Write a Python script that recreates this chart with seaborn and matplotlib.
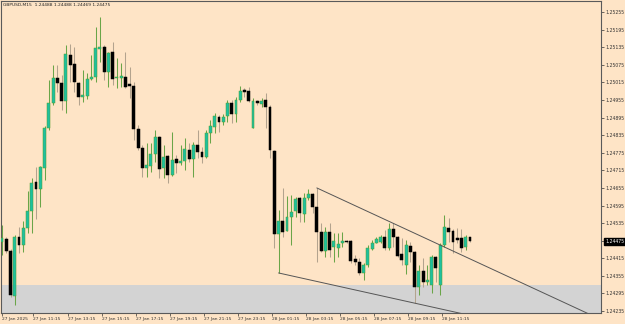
import numpy as np
import pandas as pd
import seaborn as sns
import matplotlib.pyplot as plt

# GBPUSD M15 bars
opens = [1.24471, 1.24481, 1.24440, 1.24286, 1.24488, 1.24460, 1.24518, 1.24576, 1.24675, 1.24651,
         1.24723, 1.24859, 1.24945, 1.25030, 1.25013, 1.24951, 1.25108, 1.25078, 1.25013, 1.24965,
         1.24969, 1.25027, 1.25033, 1.25129, 1.25136, 1.25050, 1.25119, 1.25030, 1.25030, 1.25033,
         1.25009, 1.25003, 1.24856, 1.24791, 1.24723, 1.24730, 1.24771, 1.24829, 1.24723, 1.24764,
         1.24699, 1.24754, 1.24740, 1.24747, 1.24784, 1.24754, 1.24801, 1.24778, 1.24760, 1.24842,
         1.24863, 1.24897, 1.24880, 1.24900, 1.24945, 1.24907, 1.24955, 1.24989, 1.24986, 1.24859,
         1.24951, 1.24941, 1.24955, 1.24931, 1.24781, 1.24498, 1.24542, 1.24508, 1.24556, 1.24576,
         1.24621, 1.24566, 1.24621, 1.24634, 1.24590, 1.24505, 1.24440, 1.24505, 1.24453, 1.24450,
         1.24467, 1.24474, 1.24474, 1.24413, 1.24402, 1.24365, 1.24392, 1.24447, 1.24467, 1.24471,
         1.24488, 1.24450, 1.24515, 1.24488, 1.24430, 1.24392, 1.24457, 1.24436, 1.24317, 1.24372,
         1.24334, 1.24324, 1.24419, 1.24324, 1.24460, 1.24518, 1.24508, 1.24484, 1.24484, 1.24453,
         1.24488]
highs = [1.24529, 1.24488, 1.24447, 1.24494, 1.24522, 1.24542, 1.24645, 1.24689, 1.24726, 1.24730,
         1.24866, 1.25023, 1.25074, 1.25074, 1.25040, 1.25143, 1.25146, 1.25136, 1.25016, 1.25057,
         1.25047, 1.25108, 1.25204, 1.25238, 1.25143, 1.25119, 1.25153, 1.25098, 1.25081, 1.25119,
         1.25067, 1.25016, 1.24870, 1.24801, 1.24808, 1.24808, 1.24853, 1.24832, 1.24801, 1.24767,
         1.24846, 1.24767, 1.24801, 1.24825, 1.24808, 1.24812, 1.24853, 1.24795, 1.24853, 1.24887,
         1.24911, 1.24904, 1.24907, 1.24955, 1.24955, 1.24965, 1.25003, 1.24996, 1.24999, 1.24962,
         1.24955, 1.24962, 1.24979, 1.24938, 1.24784, 1.24580, 1.24655, 1.24627, 1.24631, 1.24624,
         1.24624, 1.24638, 1.24651, 1.24638, 1.24655, 1.24535, 1.24522, 1.24535, 1.24501, 1.24501,
         1.24505, 1.24477, 1.24477, 1.24426, 1.24416, 1.24399, 1.24460, 1.24477, 1.24488, 1.24494,
         1.24511, 1.24535, 1.24534, 1.24491, 1.24484, 1.24477, 1.24471, 1.24440, 1.24392, 1.24416,
         1.24392, 1.24426, 1.24423, 1.24467, 1.24563, 1.24552, 1.24515, 1.24518, 1.24515, 1.24494,
         1.24488]
lows = [1.24426, 1.24433, 1.24283, 1.24256, 1.24433, 1.24436, 1.24501, 1.24501, 1.24549, 1.24590,
        1.24682, 1.24853, 1.24938, 1.24982, 1.24921, 1.24911, 1.25016, 1.24982, 1.24938, 1.24948,
        1.24958, 1.25023, 1.25016, 1.25085, 1.25023, 1.24999, 1.25006, 1.24996, 1.24999, 1.24996,
        1.24962, 1.24818, 1.24784, 1.24692, 1.24692, 1.24709, 1.24743, 1.24689, 1.24689, 1.24672,
        1.24696, 1.24706, 1.24733, 1.24716, 1.24743, 1.24692, 1.24757, 1.24740, 1.24757, 1.24808,
        1.24842, 1.24846, 1.24870, 1.24880, 1.24876, 1.24880, 1.24948, 1.24965, 1.24948, 1.24859,
        1.24938, 1.24931, 1.24859, 1.24757, 1.24450, 1.24365, 1.24488, 1.24508, 1.24460, 1.24556,
        1.24539, 1.24539, 1.24614, 1.24569, 1.24402, 1.24436, 1.24419, 1.24419, 1.24402, 1.24419,
        1.24453, 1.24467, 1.24399, 1.24392, 1.24358, 1.24341, 1.24385, 1.24443, 1.24467, 1.24467,
        1.24443, 1.24443, 1.24453, 1.24419, 1.24392, 1.24361, 1.24402, 1.24262, 1.24290, 1.24317,
        1.24324, 1.24297, 1.24334, 1.24290, 1.24453, 1.24471, 1.24433, 1.24467, 1.24436, 1.24443,
        1.24469]
closes = [1.24484, 1.24440, 1.24290, 1.24488, 1.24460, 1.24518, 1.24576, 1.24672, 1.24651, 1.24726,
          1.24859, 1.24945, 1.25030, 1.25013, 1.24951, 1.25112, 1.25074, 1.25016, 1.24965, 1.24972,
          1.25027, 1.25033, 1.25132, 1.25136, 1.25050, 1.25115, 1.25027, 1.25033, 1.25037, 1.24999,
          1.25003, 1.24856, 1.24791, 1.24723, 1.24733, 1.24771, 1.24829, 1.24720, 1.24760, 1.24699,
          1.24750, 1.24740, 1.24747, 1.24788, 1.24754, 1.24801, 1.24778, 1.24760, 1.24842, 1.24866,
          1.24900, 1.24880, 1.24897, 1.24945, 1.24907, 1.24955, 1.24986, 1.24982, 1.24951, 1.24951,
          1.24945, 1.24951, 1.24931, 1.24784, 1.24498, 1.24542, 1.24505, 1.24556, 1.24573, 1.24617,
          1.24569, 1.24621, 1.24634, 1.24590, 1.24505, 1.24440, 1.24505, 1.24443, 1.24474, 1.24464,
          1.24474, 1.24471, 1.24406, 1.24402, 1.24365, 1.24392, 1.24450, 1.24467, 1.24481, 1.24488,
          1.24450, 1.24515, 1.24488, 1.24423, 1.24409, 1.24460, 1.24436, 1.24317, 1.24372, 1.24334,
          1.24341, 1.24419, 1.24382, 1.24460, 1.24522, 1.24505, 1.24471, 1.24477, 1.24450, 1.24488,
          1.24475]

time_labels = ["27 Jan 2025", "27 Jan 11:15", "27 Jan 13:15", "27 Jan 15:15", "27 Jan 17:15",
               "27 Jan 19:15", "27 Jan 21:15", "27 Jan 23:15", "28 Jan 01:15", "28 Jan 03:15",
               "28 Jan 05:15", "28 Jan 07:15", "28 Jan 09:15", "28 Jan 11:15"]
price_ticks = [1.25255, 1.25195, 1.25135, 1.25075, 1.25015, 1.24955, 1.24895, 1.24835, 1.24775,
               1.24715, 1.24655, 1.24595, 1.24535, 1.24475, 1.24415, 1.24355, 1.24295, 1.24235]
last_price = 1.24475
zone_top = 1.24324
# trendline anchors (bar index, price)
upper_line = [(74, 1.24655), (92, 1.24534)]
lower_line = [(65, 1.24365), (97, 1.24262)]

BG = "#fee4c6"
BULL = "#1fbf9f"
BULL_EDGE = "#4f9f2c"
BULL_WICK = "#6aa548"
BEAR_WICK = "#b3a38e"

sns.set_style("ticks")
plt.rcParams['font.family'] = ['DejaVu Sans']

df = pd.DataFrame({"open": opens, "high": highs, "low": lows, "close": closes})
df["bar"] = np.arange(len(df))
df["up"] = df["close"] >= df["open"]

fig = plt.figure(figsize=(6.25, 3.24), dpi=100, facecolor=BG)
ax = fig.add_axes([1.5 / 625, 11 / 324, 599.5 / 625, 312 / 324])
ax.set_facecolor(BG)

ax.set_xlim(-0.12, 140.8)
ax.set_ylim(1.242284, 1.252926)

# grey zone at the bottom
ax.axhspan(1.2400, zone_top, color="#d3d3d3", lw=0, zorder=0)

up = df[df["up"]]
dn = df[~df["up"]]
ax.vlines(up["bar"], up["low"], up["high"], color=BULL_WICK, lw=0.75, zorder=2)
ax.vlines(dn["bar"], dn["low"], dn["high"], color=BEAR_WICK, lw=0.75, zorder=2)

min_h = 0.00003
body_up = np.maximum(up["close"] - up["open"], min_h)
body_dn = np.maximum(dn["open"] - dn["close"], min_h)
ax.bar(up["bar"], body_up, bottom=up["open"], width=0.68, color=BULL,
       edgecolor=BULL_EDGE, linewidth=0.35, zorder=3)
ax.bar(dn["bar"], body_dn, bottom=dn["close"], width=0.68, color="black",
       edgecolor="black", linewidth=0.35, zorder=3)

# trend lines, extended as rays
for (x0, y0), (x1, y1) in [upper_line, lower_line]:
    slope = (y1 - y0) / (x1 - x0)
    xs = np.array([x0, 160])
    ax.plot(xs, y0 + slope * (xs - x0), color="#555555", lw=0.7, zorder=4)

# axes frame
for s in ax.spines.values():
    s.set_color("#5a5a5a")
    s.set_linewidth(0.8)

ax.yaxis.tick_right()
ax.set_yticks(price_ticks)
ax.set_yticklabels([f"{p:.5f}" for p in price_ticks])
ax.tick_params(axis="y", length=2.2, width=0.5, pad=1, labelsize=3.3, colors="#333333")
for lbl, p in zip(ax.get_yticklabels(), price_ticks):
    if abs(p - last_price) < 1e-7:
        lbl.set_color("white")
        lbl.set_bbox(dict(facecolor="black", edgecolor="black", pad=0.8))

xt = [8 * i - 0.6 for i in range(len(time_labels))]
xt[0] = 0
ax.set_xticks(xt)
ax.set_xticklabels(time_labels, ha="left")
ax.tick_params(axis="x", length=2.2, width=0.5, pad=1, labelsize=3.2, colors="#333333")

ax.text(0.003, 0.992, "GBPUSD,M15  1.24488 1.24488 1.24469 1.24475", transform=ax.transAxes,
        ha="left", va="top", fontsize=3.2, color="#222222")

fig.savefig("out.png", dpi=100, facecolor=BG)
